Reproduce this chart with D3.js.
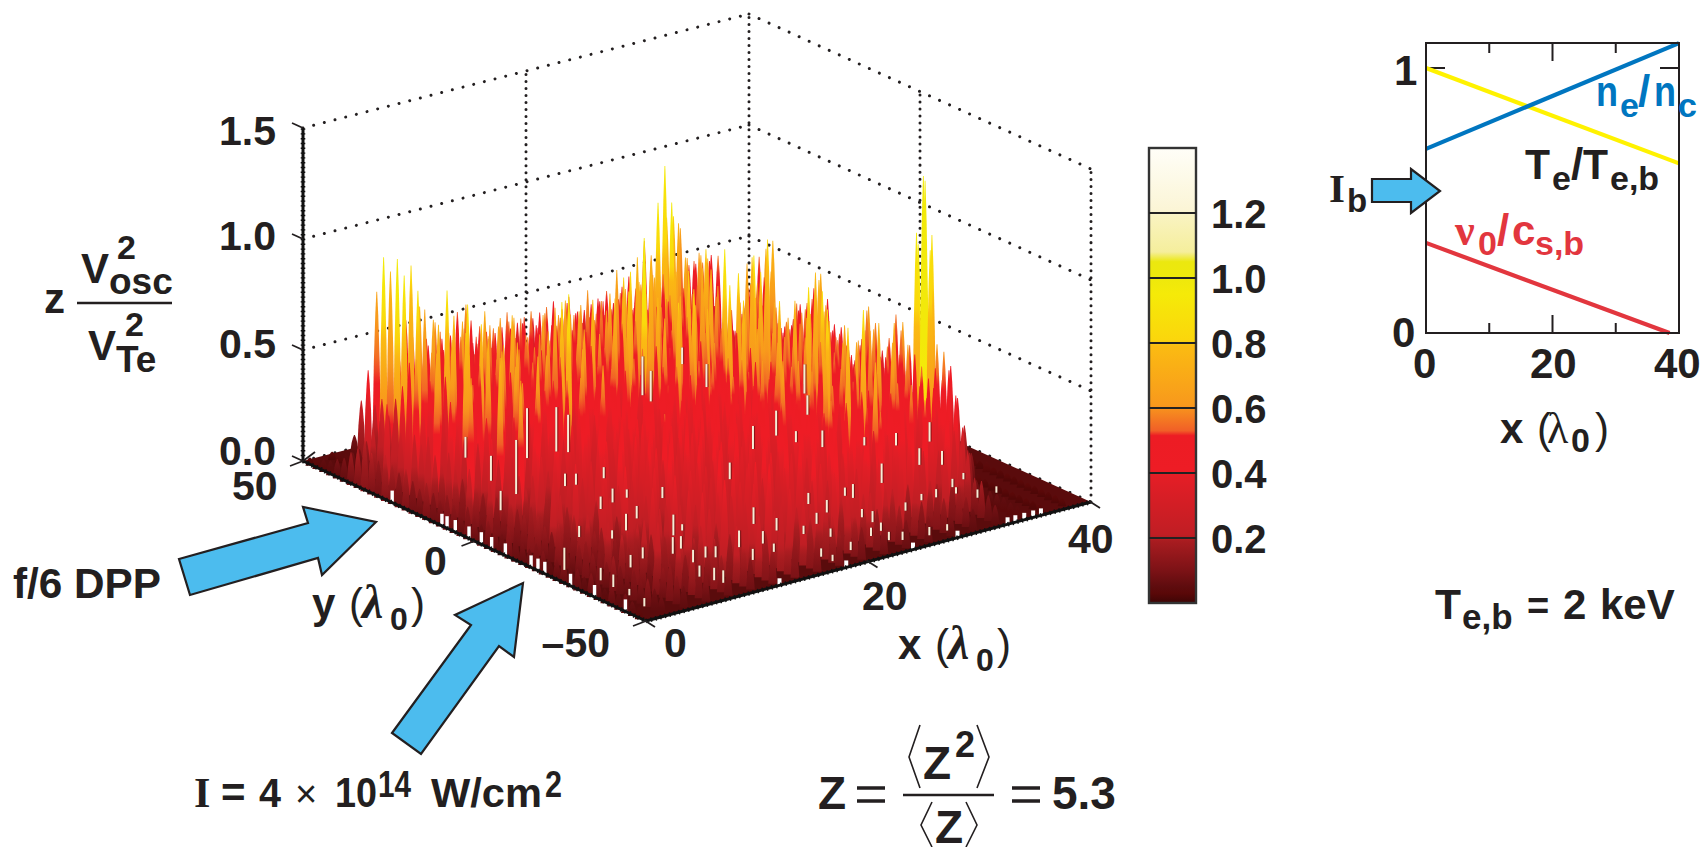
<!DOCTYPE html>
<html><head><meta charset="utf-8">
<script src="https://cdn.jsdelivr.net/npm/d3@7/dist/d3.min.js"></script>
<style>html,body{margin:0;padding:0;background:#fff}svg{display:block}text{font-family:'Liberation Sans',Arial,sans-serif;font-weight:700;fill:#231f20}</style>
</head><body><svg id="c" width="1707" height="847"></svg>
<script>
// ---- surface heights (z x 100); y runs -48..48 in each row
const zX00=[5,6,8,7,9,6,8,10,7,9,8,11,9,7,10,12,8,9,11,13,9,10,12,9,11,14,10,12,15,11,13,16,12,14,18,15,17,20,16,18,22,17,14,10,8,6,5,4,3];
const zX02=[7,9,12,10,13,9,12,15,11,14,12,16,13,11,15,18,13,14,17,20,15,16,19,14,17,22,16,19,24,18,21,27,20,23,30,25,28,34,26,29,36,27,22,15,10,7,5,4,3];
const zX04=[9,12,16,13,18,12,16,20,15,19,16,22,18,15,21,25,18,20,24,28,21,23,27,20,24,31,23,27,35,26,30,58,29,33,43,36,62,48,38,55,52,40,33,24,30,26,40,25,8];
const zX06=[11,15,20,16,22,15,20,25,18,23,20,27,22,19,26,30,22,25,29,34,26,28,33,25,30,37,28,60,42,32,66,44,36,58,48,70,52,64,46,68,54,72,79,89,83,89,82,87,70];
const zX08=[12,16,22,17,25,18,24,30,22,27,24,32,27,23,31,36,26,30,35,40,31,33,38,30,35,43,33,38,48,37,52,58,45,62,50,66,70,55,76,60,68,78,58,62,52,65,50,56,40];
const zX10=[14,19,25,20,28,22,27,33,26,31,27,35,30,26,34,39,29,33,38,42,34,36,41,33,38,45,36,41,50,40,46,60,43,52,62,47,58,50,64,48,56,46,60,44,52,48,54,42,34];
const zX12=[16,21,27,23,30,24,30,36,29,34,30,38,33,29,37,41,32,36,40,44,37,39,43,36,40,47,38,43,52,42,48,57,45,55,63,49,60,52,66,50,58,47,62,46,55,50,56,44,36];
const zX14=[18,24,30,25,33,27,33,39,31,36,33,41,35,31,39,43,34,38,42,46,39,41,45,38,42,48,40,46,55,44,50,58,52,80,75,71,59,49,49,52,59,58,59,55,49,46,47,38,54];
const zX16=[16,22,28,24,31,26,32,38,30,36,34,40,36,34,38,41,37,39,42,44,40,41,43,40,42,44,41,45,50,43,48,56,46,54,60,52,64,50,56,48,58,52,46,50,42,48,44,40,36];
const zX18=[15,20,26,24,32,27,33,40,32,38,36,42,38,36,40,42,38,40,43,45,41,42,44,41,43,45,42,46,52,44,50,58,47,56,66,54,68,52,60,50,62,54,48,52,44,50,46,42,38];
const zX20=[14,19,25,23,33,28,34,42,34,40,37,44,39,37,41,44,40,41,44,46,42,43,46,42,44,47,43,48,55,45,53,62,49,60,72,56,66,54,62,52,64,56,50,54,46,52,48,44,40];
const zX22=[13,18,24,22,32,29,36,44,35,42,38,46,41,39,43,46,42,43,46,48,44,45,48,44,46,50,62,48,58,52,70,56,60,68,83,92,82,74,70,72,60,55,48,45,41,44,50,43,36];
const zX24=[12,17,23,22,34,30,38,46,36,44,40,50,43,41,46,52,45,48,58,50,47,54,52,46,50,54,48,60,52,66,50,72,58,66,54,62,58,70,60,64,50,58,52,46,42,48,44,40,38];
const zX26=[11,16,22,21,33,31,39,48,38,47,42,56,45,43,50,60,48,52,66,54,50,62,58,48,56,60,50,70,54,74,56,66,52,76,58,72,60,68,54,50,62,46,56,44,40,48,42,46,40];
const zX28=[10,15,20,20,32,30,38,50,40,50,44,62,48,46,56,72,52,58,76,60,54,68,64,52,62,70,54,78,58,84,60,74,56,82,64,70,52,60,48,56,62,50,58,42,40,52,46,50,44];
const zX30=[9,13,18,18,30,28,36,48,38,52,45,50,44,54,50,68,76,60,52,57,58,64,76,83,75,62,66,57,51,61,88,72,78,73,54,40,39,37,43,71,68,48,63,77,85,100,82,57,62];
const zX32=[8,11,16,16,27,26,33,44,36,48,42,46,42,50,56,60,52,66,48,60,54,46,58,50,52,60,46,56,42,58,45,42,52,48,50,52,55,42,33,30,30,40,60,60,56,56,68,72,70];
const zX34=[5,5,6,6,6,5,8,19,29,42,52,46,50,44,48,52,55,60,62,50,44,55,62,45,35,42,46,46,56,66,56,50,48,40,38,38,60,56,52,50,38,24,24,22,32,52,50,48,46];
const zX36=[3,3,3,3,3,3,3,3,3,4,12,23,34,47,52,54,95,127,100,48,57,59,47,40,51,57,41,30,36,42,42,52,62,54,46,44,36,33,32,67,62,57,45,33,19,17,28,49,48];
const zX38=[3,3,3,3,3,3,3,3,3,3,3,4,3,4,5,4,5,6,5,95,118,88,5,6,5,4,5,6,5,4,5,6,5,4,5,6,5,4,5,6,5,4,5,6,5,4,5,4,3];
const surfaceRows=[zX00,zX02,zX04,zX06,zX08,zX10,zX12,zX14,zX16,zX18,zX20,zX22,zX24,zX26,zX28,zX30,zX32,zX34,zX36,zX38];
const xNodes=d3.range(0,39,2), yNodes=d3.range(-48,49,2);
// cream slits seen in the surface: [x, y, height]
const slits=[[8.4,22.5,.09],[8.2,14.5,.195],[13.3,27.9,.18],[15.8,27.5,.16],[16.4,26,.135],[9.8,34.5,.075],[5.3,9.6,.07],[12,12.6,.045],[12.8,12,.04],[15.2,11.7,.04],[12.7,1,.05],[11.2,-.4,.045],[14.1,1.4,.03],[10,-11.7,.06],[12.1,-8,.045],[12.1,-18.7,.075],[13.2,-17.7,.023],[16.1,-2.5,.04],[22.3,-2,.06],[18.1,-22.6,.06],[14.4,-30.4,.06],[27.4,7.8,.083],[30.4,10.8,.09],[30.7,6,.04],[31.6,1.2,.06],[34.2,-2.6,.03],[36,-6,.045],[38.4,-8,.07],[34.9,-16.4,.06],[36.2,-18.8,.05],[30.5,-19.7,.07],[27,-22.7,.05],[26.8,-21,.03],[23.7,-25.8,.045],[21.7,-29.3,.04],[23.7,-20.4,.04],[18.6,-27.7,.045],[19.7,-32,.03],[27.8,41.4,.14],[27.5,38,.11],[32.5,38,.083],[37.3,25,.105],[34.8,16,.07],[34,50,.06],[9.8,-26,.06],[10.9,-24.8,.045],[11.2,-31,.04],[11.8,-32,.04],[9.9,-31.6,.045],[1.6,-21,.08],[6.5,-9.4,.04],[8.2,-13.5,.03],[5.7,-27,.045],[7.5,-24.7,.04],[2.3,-33,.045],[2.4,-29,.045],[2.2,-38,.023],[1.7,-44,.03],[8.5,-38,.04],[8.9,-41,.045],[9.1,-43,.045],[16.2,-31.5,.045],[15.8,-36,.03],[13.6,-37,.04],[17.9,-43,.03],[18,-46,.023],[25.1,-31.5,.03],[25.1,-34.6,.04],[24.5,-39,.03],[28.4,-33.5,.03],[30.6,-31,.023],[31.8,-31.4,.03],[34,-29,.03],[35.6,-27,.023],[34.1,-36,.03],[35.8,-36,.023],[33.4,-32,.023],[23.8,-43.6,.03],[24.6,-45,.03],[26.7,-46,.03],[28.3,-46,.023],[23.3,-40,.03],[20.4,-43.5,.03],[20.9,-36,.03]];
// white nicks along the two front edges
const nicksY=[24,9.5,8,5.6,1.6,-2,-5,-9,-16.5,-18.5,-20.5,-28,-35,-44];
const nicksX=[12,18,24,28,32.5,33.2,34,34.8,35.5];
// colour map (value, colour)
const cmapV=[0,.03,.05,.1,.19,.21,.39,.405,.515,.53,.59,.61,.79,.81,.95,1,1.05,1.08,1.19,1.21,1.4];
const cmapC=['#3d0505','#5a0808','#5e0c0e','#7c1216','#a81c20','#c01e24','#e41e26','#ee1c25','#ed1c24','#f15f27','#f68b1f','#f8991c','#fbbb12','#fbd60c','#f5ea08','#eee80c','#ebe80f','#f5ee9c','#f9f3c0','#fbf5d6','#fffef8'];
const cbarTicks=[.2,.4,.6,.8,1,1.2];
// axis ticks
const zTicks=[0,.5,1,1.5], xTicks=[0,20,40], yTicks=[50,0,-50];
// inset lines
const insetX=[0,40];
const neNc=[.695,1.094], TeTeb=[1,.64];
const nuX=[0,38.5], nu0=[.34,0];
const insetXTicks=[[10,10],[20,18],[30,10]];

const svg=d3.select('#c');
const INK='#231f20', BLUE='#4cbcee';
// ---- projection: four corners of the base plane, z upward
const sS=d3.scaleLinear([0,40],[0,1]), tS=d3.scaleLinear([-50,50],[0,1]), zS=d3.scaleLinear([0,1.5],[0,333]);
const cF=[646,621], cR=[1091,502], cL=[303,461], cB=[749,347];
function P(x,y,z=0){const s=sS(x),t=tS(y);
  return [cF[0]*(1-s)*(1-t)+cR[0]*s*(1-t)+cL[0]*(1-s)*t+cB[0]*s*t,
          cF[1]*(1-s)*(1-t)+cR[1]*s*(1-t)+cL[1]*(1-s)*t+cB[1]*s*t-zS(z)];}
const cmap=d3.scaleLinear(cmapV,cmapC).clamp(true);
const defs=svg.append('defs');
function T(x,y,s,o={}){const t=svg.append('text').attr('x',x).attr('y',y).text(s).attr('font-size',o.size||40);
  if(o.anchor)t.attr('text-anchor',o.anchor); if(o.fill)t.style('fill',o.fill);
  if(o.weight)t.style('font-weight',o.weight); if(o.family)t.style('font-family',o.family);
  if(o.italic)t.style('font-style','italic'); if(o.len)t.attr('textLength',o.len).attr('lengthAdjust','spacingAndGlyphs'); return t;}
function L(a,b,w=2,c=INK){return svg.append('line').attr('x1',a[0]).attr('y1',a[1]).attr('x2',b[0]).attr('y2',b[1]).attr('stroke',c).attr('stroke-width',w);}
function dots(a,b,gap){L(a,b,3).attr('stroke-linecap','round').attr('stroke-dasharray',`0.01 ${gap}`);}
// ---- dotted walls
[.5,1,1.5].forEach(z=>{dots(P(0,50,z),P(40,50,z),11);dots(P(40,50,z),P(40,-50,z),11);});
dots(P(0,50,0),P(40,50,0),11);dots(P(40,50,0),P(40,-50,0),11);
[[20,50],[40,50],[40,0],[40,-50]].forEach(([x,y])=>dots(P(x,y,0),P(x,y,1.5),7));
// ---- floor
svg.append('path').attr('fill','#5a0b0c').attr('d','M'+[P(0,-50),P(40,-50),P(40,50),P(0,50)].map(p=>p.join(',')).join('L')+'Z');
// ---- surface spikes
const spikes=[];
surfaceRows.forEach((row,i)=>row.forEach((v,j)=>{if(v!=null)spikes.push({x:xNodes[i],y:yNodes[j],v,g:(i*3+j*7)%5<2?.95:1.16});}));
spikes.sort((a,b)=>P(a.x,a.y)[1]-P(b.x,b.y)[1]||b.x-a.x);
const gid=d=>`g${d.v}_${d.g===.95?0:1}`;
const made=new Set();
spikes.forEach(d=>{const id=gid(d);if(made.has(id))return;made.add(id);
  const z=d.v/100,g=defs.append('linearGradient').attr('id',id).attr('x1',0).attr('y1',1).attr('x2',0).attr('y2',0);
  d3.range(0,13).forEach(k=>{const f=k/12,t=z*f;
    g.append('stop').attr('offset',f).attr('stop-color',cmap(Math.min(.97,t*d.g+.55*z*(1-f))));});
});
svg.append('g').selectAll('path').data(spikes).join('path')
 .attr('fill',d=>`url(#${gid(d)})`)
 .attr('d',d=>{const b=P(d.x,d.y,0),t=P(d.x,d.y,d.v/100),h=b[1]-t[1],x=b[0];
   const m1=b[1]-h*.55,m2=b[1]-h*.85;
   return `M${x-4.4},${b[1]+1.5}L${x+4.4},${b[1]+1.5}L${x+2.9},${m1}L${x+1.5},${m2}L${x+.4},${t[1]}L${x-.4},${t[1]}L${x-1.5},${m2}L${x-2.9},${m1}Z`;});
// ---- slits and nicks
const sl=svg.append('g').attr('stroke-linecap','butt');
const slitTop=d=>P(d[0],d[1],d[2]*1.25)[1];
sl.selectAll('line.u').data(slits).join('line').attr('class','u')
 .attr('x1',d=>P(d[0],d[1])[0]+.5).attr('x2',d=>P(d[0],d[1])[0]+.5).attr('y1',d=>P(d[0],d[1])[1]).attr('y2',slitTop)
 .attr('stroke','#4a0808').attr('stroke-width',3.2).attr('stroke-opacity',.55);
sl.selectAll('line.s').data(slits).join('line').attr('class','s')
 .attr('x1',d=>P(d[0],d[1])[0]).attr('x2',d=>P(d[0],d[1])[0]).attr('y1',d=>P(d[0],d[1])[1]).attr('y2',slitTop)
 .attr('stroke','#f7edd6').attr('stroke-width',2);
nicksY.forEach(y=>{const a=P(0,y);L([a[0],a[1]],[a[0],a[1]-12],3.4,'#fff');});
nicksX.forEach(x=>{const a=P(x,-50);L([a[0],a[1]],[a[0],a[1]-7],4,'#fff');});
// ---- axes
function edge(a,b){L(a,b,3,'#111');L(a,b,4.6,'#111').attr('stroke-dasharray','1.4 3.4');}
edge(P(0,50),P(0,-50));edge(P(0,-50),P(40,-50));
edge(P(0,50,0),P(0,50,1.5));
const tk=(a,dx,dy,w=1.8)=>L(a,[a[0]+dx,a[1]+dy],w);
zTicks.forEach(z=>tk(P(0,50,z),-11,-5));
yTicks.forEach(y=>{tk(P(0,y),-13,5);});
xTicks.forEach(x=>{const a=P(x,-50);L([a[0]-2,a[1]-1],[a[0]+9,a[1]+6],1.8);});
tk(P(0,50),12,-9);
const zFmt=d3.format('.1f');
[[1.5,145],[1,250],[.5,358],[0,465]].forEach(([z,b])=>T(219,b,zFmt(z),{size:41}));
T(232,500,String(yTicks[0]),{size:41});
T(424,575,String(yTicks[1]),{size:41});
T(610,657,'\u2013'+Math.abs(yTicks[2]),{size:41,anchor:'end'});
T(664,657,String(xTicks[0]),{size:41});
T(862,610,String(xTicks[1]),{size:41});
T(1068,553,String(xTicks[2]),{size:41});
// axis names
function lamLabel(x0,y0,first){
  T(x0,y0,first,{size:42});
  T(x0+37,y0,'(',{size:42,weight:400});
  T(x0+50,y0,'\u03bb',{size:48,family:"'Liberation Serif',serif",italic:true});
  T(x0+78,y0+12,'0',{size:32});
  T(x0+99,y0,')',{size:42,weight:400});
}
lamLabel(312,618,'y');
lamLabel(898,659,'x');
// z label
T(44,313,'z',{size:42});
L([77,303],[172,303],2.4);
T(81,283,'V',{size:42});T(117,259,'2',{size:34});T(109,294,'osc',{size:37});
T(88,360,'V',{size:42});T(125,336,'2',{size:34});T(116,372,'Te',{size:37});
// ---- colour bar
const cb=d3.scaleLinear([0,1.4],[603,148]);
const cg=defs.append('linearGradient').attr('id','cbar').attr('x1',0).attr('y1',1).attr('x2',0).attr('y2',0);
cmapV.forEach((v,i)=>cg.append('stop').attr('offset',v/1.4).attr('stop-color',cmapC[i]));
svg.append('rect').attr('x',1149).attr('y',cb(1.4)).attr('width',47).attr('height',cb(0)-cb(1.4)).attr('fill','url(#cbar)').attr('stroke','#333').attr('stroke-width',2.4);
cbarTicks.forEach(t=>{L([1149,cb(t)],[1196,cb(t)],2,'#222');T(1211,cb(t)+15,zFmt(t),{size:40});});
// ---- arrows
const arrowDPP=[[179,559],[308,523],[303,507],[376,522],[322,575],[318,558],[190,595]];
const arrowI=[[392,733],[471,625],[455,615],[523,583],[514,657],[499,646],[421,754]];
const arrowIb=[[1372,179],[1411,179],[1411,169],[1440,191],[1411,213],[1411,202],[1372,202]];
// annotations
T(13,598,'f/6 DPP',{size:42,len:148});
T(194,807,'I',{size:42,family:"'Liberation Serif',serif"});
T(221,807,'=',{size:42});
T(259,807,'4',{size:40,len:22});
T(295,807,'\u00d7',{size:38,weight:400});
T(335,807,'10',{size:42,len:42});
T(378,797,'14',{size:36,len:33});
T(431,807,'W/cm',{size:40,len:111});
T(545,797,'2',{size:36,len:17});
// formula
T(818,809,'Z',{size:46});
function eq(x){svg.append('path').attr('d',`M${x},788h28M${x},801h28`).attr('stroke',INK).attr('stroke-width',3.4);}
eq(857);eq(1012);
L([903,795],[994,795],2.4);
T(923,779,'Z',{size:46});T(955,757,'2',{size:36});
T(935,843,'Z',{size:46});
function ang(p){svg.append('polyline').attr('points',p.join(' ')).attr('fill','none').attr('stroke',INK).attr('stroke-width',1.6);}
ang([[920,725],[909,757],[920,788]]);ang([[977,725],[989,757],[977,788]]);
ang([[932,802],[921,825],[932,847]]);ang([[966,802],[977,825],[966,847]]);
T(1052,809,'5.3',{size:46});
// ---- inset
const ix=d3.scaleLinear([0,40],[1426,1679]), iy=d3.scaleLinear([0,1],[333,68]);
insetXTicks.forEach(([v,len])=>{L([ix(v),333],[ix(v),333-len],2);L([ix(v),43],[ix(v),43+len],2);});
L([ix(0),iy(1)],[ix(0)+19,iy(1)],2);L([ix(40),iy(1)],[ix(40)-19,iy(1)],2);
const line=d3.line();
const drawI=(xs,ys,c)=>svg.append('path').attr('fill','none').attr('stroke',c).attr('stroke-width',4.2).attr('d',line(xs.map((x,i)=>[ix(x),iy(ys[i])])));
drawI(insetX,TeTeb,'#fff200');
drawI(insetX,neNc,'#0076c0');
drawI(nuX,nu0,'#e2363e');
svg.append('rect').attr('x',1426).attr('y',43).attr('width',253).attr('height',290).attr('fill','none').attr('stroke',INK).attr('stroke-width',2);
T(1394,85,'1',{size:42});T(1392,347,'0',{size:42});
T(1413,378,'0',{size:42});T(1530,378,'20',{size:42});T(1654,378,'40',{size:42});
T(1500,443,'x',{size:42});T(1537,443,'(',{size:42,weight:400});
T(1547,443,'\u03bb',{size:44,family:"'Liberation Serif',serif",weight:400});
T(1571,452,'0',{size:34});T(1595,443,')',{size:42,weight:400});
const B='#0076c0',R='#e2363e';
T(1596,106,'n',{size:42,fill:B,len:22});T(1620,117,'e',{size:34,fill:B});T(1638,106,'/',{size:44,fill:B});T(1654,106,'n',{size:42,fill:B,len:22});T(1678,117,'c',{size:34,fill:B});
T(1525,179,'T',{size:42,len:25});T(1552,190,'e',{size:34});T(1571,179,'/',{size:44});T(1583,179,'T',{size:42,len:25});T(1610,190,'e,b',{size:34});
T(1455,245,'\u03bd',{size:44,fill:R,family:"'Liberation Serif',serif"});T(1478,255,'0',{size:34,fill:R});T(1497,245,'/',{size:44,fill:R});T(1512,245,'c',{size:42,fill:R});T(1535,255,'s,b',{size:34,fill:R});
T(1329,202,'I',{size:41,family:"'Liberation Serif',serif"});T(1347,212,'b',{size:33});
T(1435,619,'T',{size:42,len:26});T(1462,629,'e,b',{size:35});T(1527,619,'=',{size:38});T(1563,619,'2',{size:42});T(1600,619,'keV',{size:42});
[arrowDPP,arrowI,arrowIb].forEach(a=>svg.append('polygon').attr('points',a.join(' ')).attr('fill',BLUE).attr('stroke',INK).attr('stroke-width',2.2));
</script></body></html>
